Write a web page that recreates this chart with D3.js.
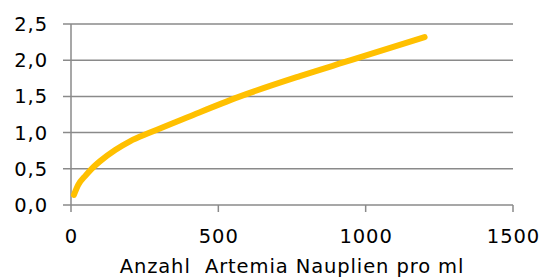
<!DOCTYPE html>
<html>
<head>
<meta charset="utf-8">
<script src="https://cdn.jsdelivr.net/npm/d3@7"></script>
<style>
  html, body { margin: 0; padding: 0; background: #fff; }
  svg { display: block; font-family: "DejaVu Sans", sans-serif; }
</style>
</head>
<body>
<svg id="chart" width="550" height="278"></svg>
<script>
// values
const nauplien = [10, 25, 50, 70, 100, 150, 200, 268, 400, 567, 777, 950, 1200]
const werte = [0.14, 0.28, 0.41, 0.5, 0.61, 0.76, 0.88, 1.0, 1.22, 1.49, 1.78, 2.0, 2.32]
const xTicks = [0, 500, 1000, 1500]
const yTicks = [0, 0.5, 1.0, 1.5, 2.0, 2.5]
const xTitle = `Anzahl  Artemia Nauplien pro ml`

const GRID = `#8a8a8a`
const LINE = `#FFC000`
const FONT_SIZE = 19.5
const SPACING = 0.9

const svg = d3.select(`#chart`)
const x = d3.scaleLinear().domain([0, 1500]).range([71, 513])
const y = d3.scaleLinear().domain([0, 2.5]).range([205, 24])
const fmt = (v) => d3.format(`.1f`)(v).replace(`.`, `,`)

// gridlines + y labels
svg.append(`g`)
  .selectAll(`line`)
  .data(yTicks)
  .join(`line`)
  .attr(`x1`, 63)
  .attr(`x2`, x(1500))
  .attr(`y1`, (d) => y(d))
  .attr(`y2`, (d) => y(d))
  .attr(`stroke`, GRID)
  .attr(`stroke-width`, 1.5)

svg.append(`g`)
  .selectAll(`text`)
  .data(yTicks)
  .join(`text`)
  .attr(`x`, 48)
  .attr(`y`, (d) => y(d))
  .attr(`dy`, `0.36em`)
  .attr(`text-anchor`, `end`)
  .attr(`font-size`, FONT_SIZE)
  .attr(`letter-spacing`, SPACING)
  .attr(`fill`, `#000`)
  .text(fmt)

// y axis line
svg.append(`line`)
  .attr(`x1`, x(0)).attr(`x2`, x(0))
  .attr(`y1`, y(2.5)).attr(`y2`, y(0))
  .attr(`stroke`, GRID)
  .attr(`stroke-width`, 1.5)

// x axis ticks + labels
const xa = svg.append(`g`)
xa.selectAll(`line`)
  .data(xTicks)
  .join(`line`)
  .attr(`x1`, (d) => x(d))
  .attr(`x2`, (d) => x(d))
  .attr(`y1`, y(0))
  .attr(`y2`, y(0) + 7)
  .attr(`stroke`, GRID)
  .attr(`stroke-width`, 1.5)

xa.selectAll(`text`)
  .data(xTicks)
  .join(`text`)
  .attr(`x`, (d) => x(d) + SPACING / 2)
  .attr(`y`, 243)
  .attr(`text-anchor`, `middle`)
  .attr(`font-size`, FONT_SIZE)
  .attr(`letter-spacing`, SPACING)
  .attr(`fill`, `#000`)
  .text((d) => d)

// axis title, kept just inside the bottom edge
svg.append(`text`)
  .attr(`x`, 292)
  .attr(`y`, 273)
  .attr(`text-anchor`, `middle`)
  .attr(`font-size`, FONT_SIZE)
  .attr(`letter-spacing`, SPACING)
  .attr(`fill`, `#000`)
  .style(`white-space`, `pre`)
  .text(xTitle)

// curve
const line = d3.line()
  .x((d, i) => x(nauplien[i]))
  .y((d) => y(d))
  .curve(d3.curveMonotoneX)

svg.append(`path`)
  .datum(werte)
  .attr(`d`, line)
  .attr(`fill`, `none`)
  .attr(`stroke`, LINE)
  .attr(`stroke-width`, 6)
  .attr(`stroke-linecap`, `round`)
</script>
</body>
</html>
